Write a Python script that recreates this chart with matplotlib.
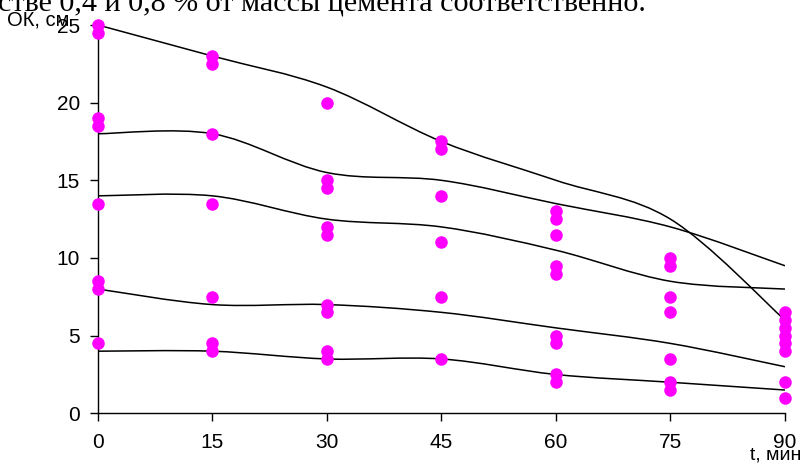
import numpy as np
import matplotlib
matplotlib.use("Agg")
import matplotlib.pyplot as plt
from matplotlib.path import Path
from matplotlib.patches import PathPatch

# время, мин
t_min = [0, 15, 30, 45, 60, 75, 90]

# сглаженные линии осадки конуса, см
ok_line1 = [25, 23, 21, 17.5, 15, 12.5, 6]
ok_line2 = [18, 18, 15.5, 15, 13.5, 12, 9.5]
ok_line3 = [14, 14, 12.5, 12, 10.5, 8.5, 8]
ok_line4 = [8, 7, 7, 6.5, 5.5, 4.5, 3]
ok_line5 = [4, 4, 3.5, 3.5, 2.5, 2, 1.5]

# замеры (точки) по каждому моменту времени
pts_0 = [25, 24.5, 19, 18.5, 13.5, 8.5, 8, 4.5]
pts_15 = [23, 22.5, 18, 13.5, 7.5, 4.5, 4]
pts_30 = [20, 15, 14.5, 12, 11.5, 7, 6.5, 4, 3.5]
pts_45 = [17.5, 17, 14, 11, 7.5, 3.5]
pts_60 = [13, 12.5, 11.5, 9.5, 9, 5, 4.5, 2.5, 2]
pts_75 = [10, 9.5, 7.5, 6.5, 3.5, 2, 1.5]
pts_90 = [6.5, 6, 5.5, 5, 4.5, 4, 2, 1]

plt.rcParams['font.family'] = ['Liberation Sans', 'DejaVu Sans']


def smooth_path(x, y, k=1 / 6):
    # кривая Безье через узлы, как "сглаженная линия" в Excel
    p = np.column_stack([x, y]).astype(float)
    n = len(p)
    verts = [p[0]]
    codes = [Path.MOVETO]
    for i in range(n - 1):
        p0 = p[max(i - 1, 0)]
        p3 = p[min(i + 2, n - 1)]
        c1 = p[i] + (p[i + 1] - p0) * k
        c2 = p[i + 1] - (p3 - p[i]) * k
        verts += [c1, c2, p[i + 1]]
        codes += [Path.CURVE4] * 3
    return Path(verts, codes)


fig = plt.figure(figsize=(8.09, 4.63), dpi=100)
ax = fig.add_axes([0.1211, 0.1073, 0.8492, 0.8387])

for line in [ok_line1, ok_line2, ok_line3, ok_line4, ok_line5]:
    ax.add_patch(PathPatch(smooth_path(t_min, line), fill=False,
                           edgecolor='black', lw=1.1, zorder=2))

for t, vals in zip(t_min, [pts_0, pts_15, pts_30, pts_45, pts_60, pts_75, pts_90]):
    ax.plot([t] * len(vals), vals, 'o', color='#FF00FF', ms=8,
            mec='#FF00FF', clip_on=False, zorder=3, ls='none')

ax.set_xlim(0, 90)
ax.set_ylim(0, 25)
ax.set_xticks(t_min)
ax.set_yticks([0, 5, 10, 15, 20, 25])
ax.spines['top'].set_visible(False)
ax.spines['right'].set_visible(False)
ax.spines['left'].set_linewidth(1.0)
ax.spines['bottom'].set_linewidth(1.0)
ax.tick_params(axis='both', direction='out', length=6, width=1.0, labelsize=15)
ax.tick_params(axis='x', pad=8)
ax.tick_params(axis='y', pad=7)

fig.text(7 / 809, 1 - 26 / 463, 'ОК, см', fontsize=14.5, va='baseline')
fig.text(750 / 809, 1 - 460 / 463, 't, мин', fontsize=14, va='baseline')

# обрезанная строка текста документа над графиком
fig.text(-2 / 809, 1 - 10 / 463, 'стве 0,4 и 0,8 % от массы цемента соответственно.',
         fontsize=21.7, family='Liberation Serif', va='baseline')

fig.savefig('out.png', dpi=100)
